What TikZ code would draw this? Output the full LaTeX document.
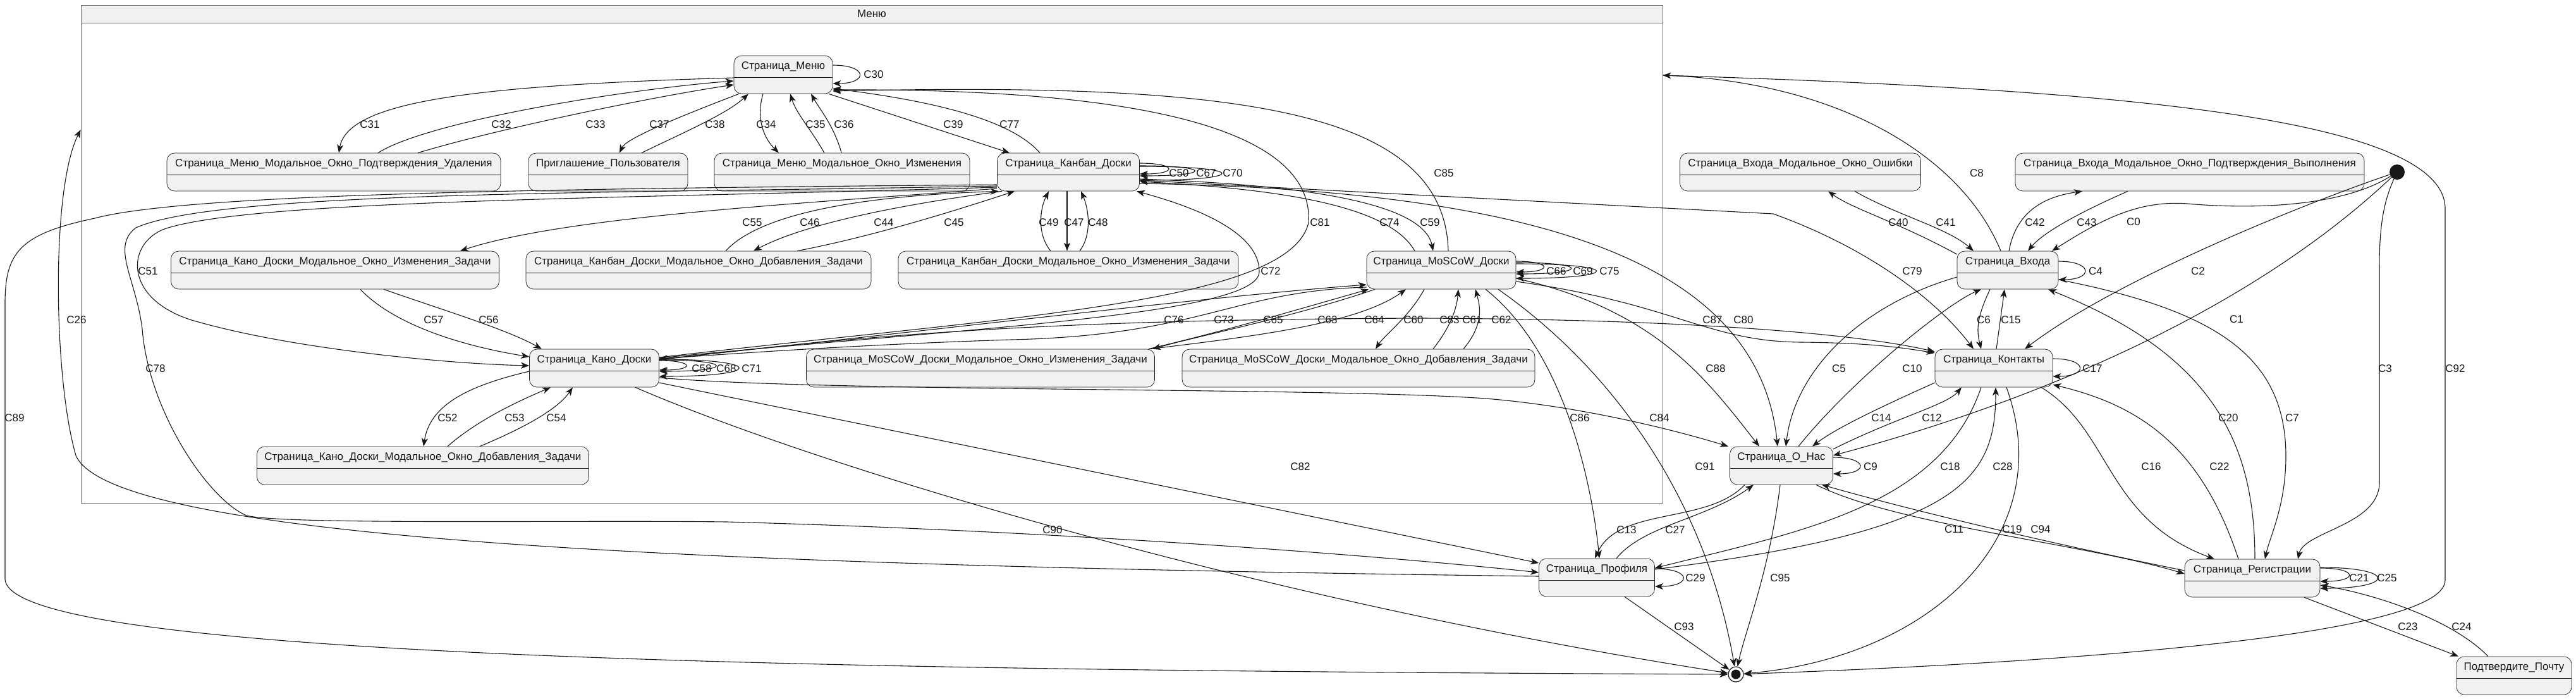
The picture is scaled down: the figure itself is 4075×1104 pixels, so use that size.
\documentclass[tikz,border=0pt]{standalone}
\usepackage{fontspec}
\setmainfont{Liberation Sans}
\usetikzlibrary{arrows.meta,calc}
\definecolor{stfill}{HTML}{F1F1F1}
\definecolor{ln}{HTML}{181818}
\tikzset{
 stbox/.style={draw=ln, line width=0.7pt, fill=stfill, rounded corners=12pt, minimum height=60pt, inner sep=0pt},
 stline/.style={draw=ln, line width=0.7pt},
 sttext/.style={font=\fontsize{17pt}{20pt}\selectfont, inner sep=0pt, text=ln},
 lbl/.style={font=\fontsize{17pt}{20pt}\selectfont, inner sep=0pt, text=ln},
 arr/.style={draw=ln, line width=1.1pt, -{Stealth[length=13pt,width=10pt,inset=3.5pt]}},
 plainln/.style={draw=ln, line width=1.1pt},
 clbox/.style={draw=black!60, line width=0.8pt, fill=white, inner sep=0pt},
}
\newcommand\stnode[5]{%
  \node[stbox, minimum width=#4pt] (#1) at (#2,#3) {};
  \draw[stline] ($(#1.west)+(0,4)$) -- ($(#1.east)+(0,4)$);
  \node[sttext] (#1-t) at ($(#1.center)+(0,-13)$) {#5};
}
\newcommand\selfloop[4]{%
  \draw[arr] ([yshift=#2pt]#1.east) .. controls +(#4,0) and +(#4,0) .. ([yshift=#3pt]#1.east);
}
\begin{document}
\begin{tikzpicture}[x=1pt,y=-1pt]
\useasboundingbox (0,0) rectangle (4075,1104);
% cluster
\node[clbox, minimum width=2502pt, minimum height=787pt] (menuc) at (1379,401.5) {};
\fill[stfill] (128.5,8.5) rectangle (2629.5,36);
\draw[black!60, line width=0.8pt] (128,36) -- (2630,36);
\node[lbl] (menut) at (1379,22) {Меню};
% states
\stnode{menu}{1239}{118}{156}{Страница\_Меню}
\stnode{udal}{528}{272}{528}{Страница\_Меню\_Модальное\_Окно\_Подтверждения\_Удаления}
\stnode{prig}{962}{272}{252}{Приглашение\_Пользователя}
\stnode{mizm}{1332}{272}{404}{Страница\_Меню\_Модальное\_Окно\_Изменения}
\stnode{kanban}{1690}{272}{225}{Страница\_Канбан\_Доски}
\stnode{kanoizm}{530}{427}{519}{Страница\_Кано\_Доски\_Модальное\_Окно\_Изменения\_Задачи}
\stnode{kbdob}{1105}{427}{546}{Страница\_Канбан\_Доски\_Модальное\_Окно\_Добавления\_Задачи}
\stnode{kbizm}{1690}{427}{538}{Страница\_Канбан\_Доски\_Модальное\_Окно\_Изменения\_Задачи}
\stnode{moscow}{2280}{427}{236}{Страница\_MoSCoW\_Доски}
\stnode{kano}{940}{582}{205}{Страница\_Кано\_Доски}
\stnode{msizm}{1551}{582}{551}{Страница\_MoSCoW\_Доски\_Модальное\_Окно\_Изменения\_Задачи}
\stnode{msdob}{2149}{582}{558}{Страница\_MoSCoW\_Доски\_Модальное\_Окно\_Добавления\_Задачи}
\stnode{kanodob}{669}{736}{525}{Страница\_Кано\_Доски\_Модальное\_Окно\_Добавления\_Задачи}
\stnode{vhodosh}{2848}{272}{381}{Страница\_Входа\_Модальное\_Окно\_Ошибки}
\stnode{vhodpod}{3464}{272}{552}{Страница\_Входа\_Модальное\_Окно\_Подтверждения\_Выполнения}
\stnode{vhod}{3176}{427}{160}{Страница\_Входа}
\stnode{kont}{3154}{582}{186}{Страница\_Контакты}
\stnode{onas}{2818}{736}{163}{Страница\_О\_Нас}
\stnode{prof}{2526}{913}{183}{Страница\_Профиля}
\stnode{reg}{3563}{914}{214}{Страница\_Регистрации}
\stnode{pochta}{3977}{1068}{182}{Подтвердите\_Почту}
\node[circle, fill=ln, minimum size=24pt, inner sep=0pt] (start) at (3792,272) {};
\node[circle, draw=ln, line width=1.2pt, fill=white, minimum size=24pt, inner sep=0pt] (endd) at (2746,1066) {};
\fill[ln] (endd.center) circle (7.5pt);
% self loops
\selfloop{menu}{15}{-14}{56}
\selfloop{kanban}{14}{-3}{60}
\selfloop{kanban}{10}{-6}{115}
\selfloop{kanban}{9}{-13}{172}
\selfloop{kano}{12}{-3}{56}
\selfloop{kano}{13}{-5}{119}
\selfloop{kano}{14}{-13}{167}
\selfloop{moscow}{14}{-3}{57}
\selfloop{moscow}{12}{-6}{115}
\selfloop{moscow}{10}{-13}{168}
\selfloop{vhod}{14}{-15}{55}
\selfloop{kont}{15}{-13}{56}
\selfloop{onas}{13}{-13}{56}
\selfloop{prof}{14}{-14}{59}
\selfloop{reg}{16}{-5}{60}
\selfloop{reg}{17}{-16}{120}
% menu cluster inner edges
\draw[arr] ([yshift=-5pt]menu.west) .. controls (750,135) and (550,160) .. ([xshift=8pt]udal.north);
\draw[arr] ([xshift=70pt]udal.north) .. controls (680,190) and (1000,140) .. ([yshift=-10pt]menu.west);
\draw[arr] ([xshift=133pt]udal.north) .. controls (800,200) and (1050,150) .. ([yshift=-16pt]menu.west);
\draw[arr] ([xshift=-70pt]menu.south) .. controls (1060,190) and (990,220) .. ([xshift=18pt]prig.north);
\draw[arr] ([xshift=53pt]prig.north) .. controls (1080,210) and (1150,180) .. ([xshift=-55pt]menu.south);
\draw[arr] ([xshift=-32pt]menu.south) .. controls (1195,190) and (1210,220) .. ([xshift=-100pt]mizm.north);
\draw[arr] ([xshift=-28pt]mizm.north) .. controls (1280,200) and (1260,180) .. ([xshift=11pt]menu.south);
\draw[arr] ([xshift=-1pt]mizm.north) .. controls (1320,200) and (1295,170) .. ([xshift=44pt]menu.south);
\draw[arr] ([xshift=72pt]menu.south) -- ([xshift=-93pt]kanban.north);
\draw[arr] ([xshift=-45pt]kanban.north) .. controls (1600,190) and (1480,160) .. ([yshift=-22pt]menu.east);
\draw[arr] ([xshift=11pt]moscow.north) .. controls (2285,170) and (1950,130) .. ([yshift=-26pt]menu.east);
\draw[arr] ([yshift=17pt]kano.east) .. controls (1600,500) and (2040,480) .. (2070,352) .. controls (2080,190) and (1750,140) .. ([yshift=-24pt]menu.east);
\draw[arr] ([yshift=16pt]kano.east) .. controls (1500,520) and (1990,500) .. (1992,430) .. controls (1993,370) and (1900,330) .. ([xshift=108pt]kanban.south);
\draw[arr] ([yshift=-20pt]kanban.west) .. controls (900,298) and (300,305) .. (150,345) .. controls (30,370) and (8,400) .. (8,480) -- (8,915) .. controls (10,1040) and (1300,1060) .. (endd);
\draw[arr] ([yshift=-22pt]kanban.west) .. controls (1000,306) and (350,300) .. (215,360) .. controls (175,390) and (215,440) .. (225,520) .. controls (235,650) and (330,790) .. (390,815) .. controls (450,830) and (900,822) .. (1150,825) .. controls (1700,840) and (2200,880) .. ([yshift=8pt]prof.west);
\draw[arr] ([yshift=-24pt]kanban.west) .. controls (1000,314) and (400,315) .. (260,362) .. controls (200,385) and (195,470) .. (300,505) .. controls (450,550) and (700,575) .. ([yshift=4pt]kano.west);
\draw[arr] ([yshift=-26pt]kanban.west) .. controls (1300,320) and (900,340) .. ([xshift=198pt]kanoizm.north);
\draw[arr] ([xshift=-105pt]kanban.south) .. controls (1450,320) and (1280,350) .. ([xshift=87pt]kbdob.north);
\draw[arr] ([xshift=43pt]kbdob.north) .. controls (1200,340) and (1350,310) .. ([xshift=-110pt]kanban.south);
\draw[arr] ([xshift=156pt]kbdob.north) .. controls (1400,370) and (1550,320) .. ([xshift=-85pt]kanban.south);
\draw[arr] ([xshift=-2pt]kanban.south) -- ([xshift=-2pt]kbizm.north);
\draw[arr] ([xshift=-28pt]kbizm.north) .. controls (1640,370) and (1645,330) .. ([xshift=-31pt]kanban.south);
\draw[arr] ([xshift=18pt]kbizm.north) .. controls (1728,370) and (1722,330) .. ([xshift=20pt]kanban.south);
\draw[arr] ([yshift=-11pt]kanban.east) .. controls (2000,290) and (2250,310) .. ([xshift=-13pt]moscow.north);
\draw[arr] ([xshift=-42pt]moscow.north) .. controls (2200,330) and (2050,300) .. ([yshift=-15pt]kanban.east);
\draw[arr] ([yshift=-18pt]kanban.east) .. controls (2400,300) and (2780,400) .. ([xshift=-6pt]onas.north);
\draw[arr] ([yshift=-13pt]kanban.east) -- (2805,338) .. controls (2950,390) and (3060,470) .. ([xshift=-32pt]kont.north);
\draw[arr] ([xshift=40pt]kanoizm.south) .. controls (620,510) and (720,545) .. ([yshift=18pt]kano.west);
\draw[arr] ([xshift=77pt]kanoizm.south) .. controls (700,490) and (800,520) .. ([xshift=-83pt]kano.north);
\draw[arr] ([yshift=-5pt]kano.west) .. controls (740,610) and (680,640) .. ([xshift=1pt]kanodob.north);
\draw[arr] ([xshift=39pt]kanodob.north) .. controls (760,660) and (830,630) .. ([xshift=-69pt]kano.south);
\draw[arr] ([xshift=90pt]kanodob.north) .. controls (820,680) and (880,650) .. ([xshift=-34pt]kano.south);
\draw[arr] ([yshift=14pt]kano.east) .. controls (1500,520) and (1900,470) .. ([yshift=-23pt]moscow.west);
\draw[arr] ([yshift=-27pt]moscow.west) .. controls (1950,460) and (1900,530) .. (1600,537) .. controls (1350,545) and (1150,560) .. ([yshift=15pt]kano.east);
\draw[arr] ([yshift=13pt]kano.east) .. controls (1400,525) and (1700,505) .. (2250,503) .. controls (2700,505) and (2950,530) .. ([yshift=26pt]kont.west);
\draw[arr] ([xshift=-105pt]moscow.south) .. controls (2050,500) and (1900,530) .. ([xshift=272pt]msizm.north);
\draw[arr] ([xshift=268pt]msizm.north) .. controls (2000,530) and (2150,510) .. ([xshift=-56pt]moscow.south);
\draw[arr] ([xshift=266pt]msizm.north) .. controls (1950,520) and (2050,490) .. ([xshift=-115pt]moscow.south);
\draw[arr] ([xshift=-27pt]moscow.south) .. controls (2230,500) and (2190,530) .. ([xshift=27pt]msdob.north);
\draw[arr] ([xshift=118pt]msdob.north) .. controls (2300,510) and (2305,480) .. ([xshift=27pt]moscow.south);
\draw[arr] ([xshift=166pt]msdob.north) .. controls (2350,510) and (2340,480) .. ([xshift=54pt]moscow.south);
\draw[arr] ([xshift=70pt]moscow.south) .. controls (2480,560) and (2520,780) .. ([xshift=4pt]prof.north);
\draw[arr] ([xshift=90pt]moscow.south) .. controls (2560,590) and (2700,800) .. (endd);
\draw[arr] ([yshift=-13pt]moscow.east) .. controls (2620,490) and (2700,600) .. ([xshift=-35pt]onas.north);
\draw[arr] ([yshift=-18pt]moscow.east) .. controls (2650,480) and (2700,540) .. (2850,541) .. controls (2950,542) and (3000,548) .. ([yshift=24pt]kont.west);
\draw[arr] ([yshift=-15pt]kano.east) .. controls (1300,620) and (2100,612) .. (2350,630) .. controls (2500,642) and (2650,680) .. ([xshift=-84pt]onas.north);
\draw[arr] ([yshift=-23pt]kano.east) -- ([yshift=23pt]prof.west);
\draw[arr] ([xshift=65pt]kano.south) .. controls (1300,740) and (2000,950) .. (endd);
\draw[arr] ([yshift=2pt]prof.west) .. controls (1200,895) and (180,860) .. (120,720) .. controls (85,600) and (80,300) .. ([yshift=196.5pt]menuc.west);
\draw[arr] ([yshift=282.5pt]menuc.east) .. controls (3300,140) and (3868,180) .. (3868,330) -- (3868,917) .. controls (3868,1010) and (3200,1050) .. (endd);
\draw[arr] ([xshift=-11pt]vhod.north) .. controls (3100,240) and (2900,130) .. ([yshift=282.5pt]menuc.east);
% outer states
\draw[arr] (start) .. controls (3700,330) and (3550,330) .. (3460,322) .. controls (3380,316) and (3320,350) .. ([xshift=70pt]vhod.north);
\draw[arr] (start) .. controls (3550,500) and (3200,640) .. ([yshift=16pt]onas.east);
\draw[arr] (start) .. controls (3650,320) and (3350,440) .. ([xshift=49pt]kont.north);
\draw[arr] (start) .. controls (3770,320) and (3764,360) .. (3764,420) -- (3764,763) .. controls (3764,830) and (3645,840) .. ([xshift=72pt]reg.north);
\draw[arr] ([yshift=-11pt]vhod.west) .. controls (2950,480) and (2840,580) .. ([xshift=7pt]onas.north);
\draw[arr] ([xshift=-28pt]vhod.south) .. controls (3128,500) and (3126,520) .. ([xshift=-20pt]kont.north);
\draw[arr] ([xshift=4pt]kont.north) -- ([xshift=-5pt]vhod.south);
\draw[arr] ([yshift=-15pt]vhod.east) .. controls (3500,490) and (3616,560) .. (3616,721) .. controls (3616,800) and (3590,850) .. ([xshift=20pt]reg.north);
\draw[arr] ([xshift=27pt]onas.north) .. controls (2930,600) and (3080,480) .. ([xshift=-42pt]vhod.south);
\draw[arr] ([yshift=26pt]onas.east) .. controls (3000,660) and (3080,640) .. ([xshift=-51pt]kont.south);
\draw[arr] ([yshift=-23pt]kont.west) .. controls (2960,650) and (2900,680) .. ([xshift=49pt]onas.north);
\draw[arr] ([xshift=75pt]kont.south) .. controls (3340,680) and (3330,820) .. ([xshift=-60pt]reg.north);
\draw[arr] ([xshift=-20pt]kont.south) .. controls (3070,800) and (2850,840) .. ([yshift=15pt]prof.east);
\draw[arr] ([yshift=13pt]prof.east) .. controls (3100,840) and (3157,760) .. ([xshift=3pt]kont.south);
\draw[arr] ([xshift=4pt]reg.north) .. controls (3567,700) and (3500,560) .. ([xshift=64pt]vhod.south);
\draw[arr] ([xshift=-22pt]reg.north) .. controls (3480,700) and (3380,640) .. ([yshift=-26pt]kont.east);
\draw[arr] ([xshift=20pt]kont.south) .. controls (3260,850) and (3050,1040) .. (endd);
\draw[arr] ([xshift=55pt]onas.south) .. controls (3000,830) and (3300,860) .. ([yshift=7pt]reg.west);
\draw[arr] ([yshift=12pt]reg.west) .. controls (3200,850) and (3000,800) .. ([xshift=64pt]onas.south);
\draw[arr] ([xshift=-58pt]onas.south) .. controls (2700,830) and (2560,800) .. ([xshift=-3pt]prof.north);
\draw[arr] ([xshift=31pt]prof.north) .. controls (2600,830) and (2700,820) .. ([xshift=-44pt]onas.south);
\draw[arr] ([xshift=-2pt]onas.south) .. controls (2800,900) and (2760,1000) .. (endd);
\draw[arr] ([xshift=44pt]prof.south) -- (endd);
\draw[arr] ([xshift=82pt]reg.south) -- ([xshift=-88pt]pochta.north);
\draw[arr] ([xshift=-41pt]pochta.north) .. controls (3880,980) and (3760,940) .. ([yshift=-11pt]reg.east);
\draw[arr] ([yshift=25pt]vhod.west) .. controls (3000,350) and (2930,330) .. ([xshift=44pt]vhodosh.south);
\draw[arr] ([xshift=86pt]vhodosh.south) .. controls (3000,340) and (3080,360) .. ([xshift=-54pt]vhod.north);
\draw[arr] ([xshift=2pt]vhod.north) .. controls (3190,330) and (3240,310) .. ([xshift=-170pt]vhodpod.south);
\draw[arr] ([xshift=-98pt]vhodpod.south) .. controls (3280,340) and (3230,370) .. ([xshift=32pt]vhod.north);
% labels
\node[lbl] (l0) at (3375,351) {C0};
\node[lbl] (l1) at (3538,505) {C1};
\node[lbl] (l2) at (3477,429) {C2};
\node[lbl] (l3) at (3773,583) {C3};
\node[lbl] (l4) at (3315,429) {C4};
\node[lbl] (l5) at (2909,583) {C5};
\node[lbl] (l6) at (3138,506) {C6};
\node[lbl] (l7) at (3626,661) {C7};
\node[lbl] (l8) at (3127,274) {C8};
\node[lbl] (l9) at (2959,738) {C9};
\node[lbl] (l10) at (3025,583) {C10};
\node[lbl] (l11) at (3091,837) {C11};
\node[lbl] (l12) at (3056,661) {C12};
\node[lbl] (l13) at (2573,838) {C13};
\node[lbl] (l14) at (2976,661) {C14};
\node[lbl] (l15) at (3181,506) {C15};
\node[lbl] (l16) at (3403,738) {C16};
\node[lbl] (l17) at (3310,583) {C17};
\node[lbl] (l18) at (3085,738) {C18};
\node[lbl] (l19) at (3183,837) {C19};
\node[lbl] (l20) at (3525,661) {C20};
\node[lbl] (l21) at (3732,914) {C21};
\node[lbl] (l22) at (3511,738) {C22};
\node[lbl] (l23) at (3809,991) {C23};
\node[lbl] (l24) at (3894,991) {C24};
\node[lbl] (l25) at (3776,914) {C25};
\node[lbl] (l26) at (121,506) {C26};
\node[lbl] (l27) at (2650,838) {C27};
\node[lbl] (l28) at (3168,738) {C28};
\node[lbl] (l29) at (2682,914) {C29};
\node[lbl] (l30) at (1382,118) {C30};
\node[lbl] (l31) at (585,197) {C31};
\node[lbl] (l32) at (793,197) {C32};
\node[lbl] (l33) at (942,197) {C33};
\node[lbl] (l34) at (1212,197) {C34};
\node[lbl] (l35) at (1290,197) {C35};
\node[lbl] (l36) at (1335,197) {C36};
\node[lbl] (l37) at (1043,197) {C37};
\node[lbl] (l38) at (1131,197) {C38};
\node[lbl] (l39) at (1508,197) {C39};
\node[lbl] (l40) at (3003,352) {C40};
\node[lbl] (l41) at (3078,352) {C41};
\node[lbl] (l42) at (3219,352) {C42};
\node[lbl] (l43) at (3301,352) {C43};
\node[lbl] (l44) at (1398,352) {C44};
\node[lbl] (l45) at (1509,352) {C45};
\node[lbl] (l46) at (1281,352) {C46};
\node[lbl] (l47) at (1699,352) {C47};
\node[lbl] (l48) at (1737,352) {C48};
\node[lbl] (l49) at (1659,352) {C49};
\node[lbl] (l50) at (1865,274) {C50};
\node[lbl] (l51) at (234,429) {C51};
\node[lbl] (l52) at (708,661) {C52};
\node[lbl] (l53) at (814,661) {C53};
\node[lbl] (l54) at (880,661) {C54};
\node[lbl] (l55) at (1190,352) {C55};
\node[lbl] (l56) at (773,506) {C56};
\node[lbl] (l57) at (686,506) {C57};
\node[lbl] (l58) at (1110,583) {C58};
\node[lbl] (l59) at (2262,352) {C59};
\node[lbl] (l60) at (2236,506) {C60};
\node[lbl] (l61) at (2329,506) {C61};
\node[lbl] (l62) at (2375,506) {C62};
\node[lbl] (l63) at (2100,506) {C63};
\node[lbl] (l64) at (2174,506) {C64};
\node[lbl] (l65) at (2014,506) {C65};
\node[lbl] (l66) at (2462,429) {C66};
\node[lbl] (l67) at (1908,274) {C67};
\node[lbl] (l68) at (1149,583) {C68};
\node[lbl] (l69) at (2504,429) {C69};
\node[lbl] (l70) at (1950,274) {C70};
\node[lbl] (l71) at (1189,583) {C71};
\node[lbl] (l72) at (2010,429) {C72};
\node[lbl] (l73) at (1936,506) {C73};
\node[lbl] (l74) at (2198,352) {C74};
\node[lbl] (l75) at (2546,429) {C75};
\node[lbl] (l76) at (1857,506) {C76};
\node[lbl] (l77) at (1597,197) {C77};
\node[lbl] (l78) at (246,583) {C78};
\node[lbl] (l79) at (3025,429) {C79};
\node[lbl] (l80) at (2758,506) {C80};
\node[lbl] (l81) at (2088,352) {C81};
\node[lbl] (l82) at (2057,738) {C82};
\node[lbl] (l83) at (2293,506) {C83};
\node[lbl] (l84) at (2625,661) {C84};
\node[lbl] (l85) at (2284,274) {C85};
\node[lbl] (l86) at (2499,661) {C86};
\node[lbl] (l87) at (2709,506) {C87};
\node[lbl] (l88) at (2714,583) {C88};
\node[lbl] (l89) at (23,661) {C89};
\node[lbl] (l90) at (1665,838) {C90};
\node[lbl] (l91) at (2697,738) {C91};
\node[lbl] (l92) at (3884,583) {C92};
\node[lbl] (l93) at (2664,991) {C93};
\node[lbl] (l94) at (3228,837) {C94};
\node[lbl] (l95) at (2816,914) {C95};
\end{tikzpicture}
\end{document}
